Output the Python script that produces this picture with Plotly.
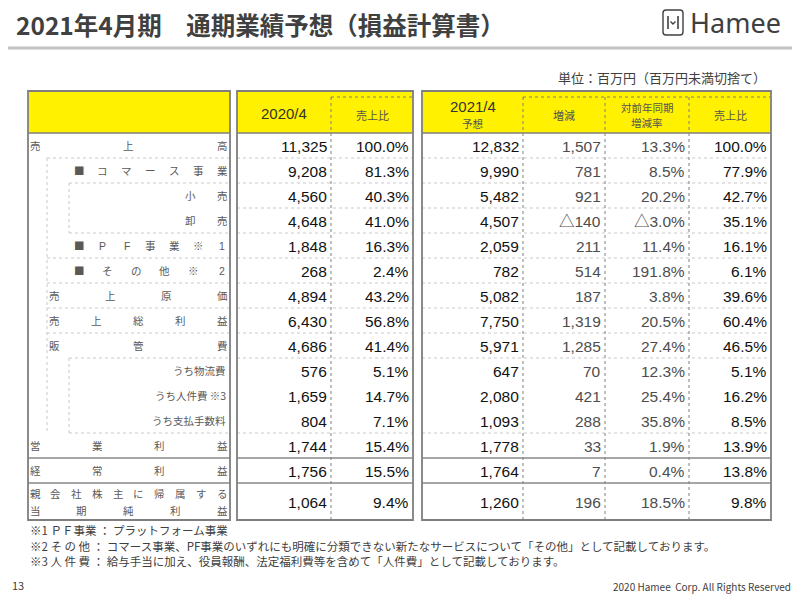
import plotly.graph_objects as go

# ---------------- data ----------------
row_labels = ["売上高", "■コマース事業", "小売", "卸売", "■PF事業※1", "■その他※2",
              "売上原価", "売上総利益", "販管費", "うち物流費", "うち人件費 ※3",
              "うち支払手数料", "営業利益", "経常利益", "親会社株主に帰属する|当期純利益"]
fy2020 = [11325, 9208, 4560, 4648, 1848, 268, 4894, 6430, 4686, 576, 1659, 804, 1744, 1756, 1064]
ratio2020 = [100.0, 81.3, 40.3, 41.0, 16.3, 2.4, 43.2, 56.8, 41.4, 5.1, 14.7, 7.1, 15.4, 15.5, 9.4]
fy2021 = [12832, 9990, 5482, 4507, 2059, 782, 5082, 7750, 5971, 647, 2080, 1093, 1778, 1764, 1260]
change = [1507, 781, 921, -140, 211, 514, 187, 1319, 1285, 70, 421, 288, 33, 7, 196]
change_rate = [13.3, 8.5, 20.2, -3.0, 11.4, 191.8, 3.8, 20.5, 27.4, 12.3, 25.4, 35.8, 1.9, 0.4, 18.5]
ratio2021 = [100.0, 77.9, 42.7, 35.1, 16.1, 6.1, 39.6, 60.4, 46.5, 5.1, 16.2, 8.5, 13.9, 13.8, 9.8]
headers = ["2020/4", "売上比", "2021/4|予想", "増減", "対前年同期|増減率", "売上比"]

title = "2021年4月期　通期業績予想（損益計算書）"
unit_note = "単位：百万円（百万円未満切捨て）"
footnotes = ["※1 ＰＦ事業 ： プラットフォーム事業",
             "※2 そ の 他 ： コマース事業、PF事業のいずれにも明確に分類できない新たなサービスについて「その他」として記載しております。",
             "※3 人 件 費 ： 給与手当に加え、役員報酬、法定福利費等を含めて「人件費」として記載しております。"]
page_no = "13"
copyright_text = "2020 Hamee  Corp. All Rights Reserved"

# ---------------- layout constants ----------------
JP = "Noto Sans CJK JP"
NUM = "Liberation Sans, Arial, Noto Sans CJK JP"
YELLOW = "#FFF100"
BORDER = "#7f7f7f"
LIGHT = "#c9c9c9"
PAGE_OFF = 8  # default page body margin, compensated via axis ranges
TOP, HEAD_B, ROW_H, LAST_H = 91, 133, 25, 37
blocks = [(28, 230), (237, 413), (422, 771)]
cols = [(237, 331), (331, 413), (422, 523), (523, 605), (605, 689), (689, 771)]
indent = [28, 47, 69, 69, 47, 47, 47, 47, 47, 69, 69, 69, 28, 28, 28]
label_mode = ["d"] * 9 + ["r"] * 3 + ["d"] * 3
first_x = {0: 35, 1: 79, 2: 190, 3: 190, 4: 79, 5: 79, 6: 54, 7: 54, 8: 54, 12: 35, 13: 35, 14: 35}
LAST_X = 222

n = len(row_labels)
tops = [HEAD_B + i * ROW_H for i in range(n)]
bottoms = [t + ROW_H for t in tops]
bottoms[-1] = tops[-1] + LAST_H
BOTTOM = bottoms[-1]
centers = [(t + b) / 2 for t, b in zip(tops, bottoms)]

fig = go.Figure()
fig.add_trace(go.Scatter(x=[400], y=[300], mode="markers",
                         marker=dict(size=1, opacity=0), hoverinfo="skip", showlegend=False))

shapes = []
ann = []


def line(x0, y0, x1, y1, color, width=1, dash="solid"):
    shapes.append(dict(type="line", xref="x", yref="y", x0=x0, y0=y0, x1=x1, y1=y1,
                       line=dict(color=color, width=width, dash=dash)))


def text(x, y, s, size, color, font=JP, xanchor="center", bold=False):
    if bold:
        s = "<b>" + s + "</b>"
    ann.append(dict(x=x, y=y, xref="x", yref="y", text=s, showarrow=False, xanchor=xanchor,
                    yanchor="middle", font=dict(family=font, size=size, color=color)))


# header yellow
for x0, x1 in blocks:
    shapes.append(dict(type="rect", xref="x", yref="y", x0=x0, x1=x1, y0=TOP, y1=HEAD_B,
                       fillcolor=YELLOW, line=dict(width=0)))

# data row separators
skip = {10, 11}
for i in range(1, n):
    if i in skip:
        continue
    y = tops[i]
    thick = i in (13, 14)
    for x0, x1 in blocks[1:]:
        if thick:
            line(x0, y, x1, y, "#a6a6a6", 2)
        else:
            line(x0, y, x1, y, LIGHT, 1, "dot")
    if i == 3:
        continue
    xs = max(indent[i - 1], indent[i])
    if thick:
        line(28, y, 230, y, "#a6a6a6", 2)
    else:
        line(xs, y, 230, y, LIGHT, 1, "dot" if xs > 28 else "solid")

# label indent verticals
line(47, tops[1], 47, tops[12], LIGHT, 1, "dot")
line(69, tops[2], 69, bottoms[3], LIGHT, 1, "dot")
line(69, tops[9], 69, tops[12], LIGHT, 1, "dot")

# dotted column dividers
for xv in (331, 523, 605, 689):
    line(xv, 97, xv, BOTTOM, "#808080", 1, "dot")
line(331, 97, 413, 97, "#808080", 1, "dot")
line(523, 97, 771, 97, "#808080", 1, "dot")

# header bottom and block outlines
for x0, x1 in blocks:
    line(x0, HEAD_B, x1, HEAD_B, BORDER, 1.5)
    shapes.append(dict(type="rect", xref="x", yref="y", x0=x0, x1=x1, y0=TOP, y1=BOTTOM,
                       line=dict(color=BORDER, width=1.8)))

# header texts
for (x0, x1), h in zip(cols, headers):
    cx = (x0 + x1) / 2
    parts = h.split("|")
    if h.startswith("20"):
        if len(parts) == 1:
            text(cx, (TOP + HEAD_B) / 2 + 1, parts[0], 15, "#333333", NUM)
        else:
            text(cx, 106, parts[0], 15, "#333333", NUM)
            text(cx, 123, parts[1], 10.5, "#555555")
    else:
        if len(parts) == 1:
            text(cx, 115, parts[0], 11, "#555555")
        else:
            text(cx, 107, parts[0], 10.5, "#555555")
            text(cx, 122, parts[1], 10.5, "#555555")

# row labels
LBL = "#595959"
for i, lab in enumerate(row_labels):
    if label_mode[i] == "r":
        text(228, centers[i], lab, 10.5, LBL, JP, "right")
        continue
    lines_ = lab.split("|")
    if len(lines_) == 1:
        ys = [centers[i]]
    else:
        ys = [centers[i] - 8.5, centers[i] + 8.5]
    for yy, ln in zip(ys, lines_):
        chars = list(ln)
        k = len(chars)
        x0 = first_x[i]
        step = (LAST_X - x0) / (k - 1)
        for j, ch in enumerate(chars):
            text(x0 + j * step, yy, ch, 10.5, LBL, NUM if ch.isascii() else JP)


def fmt_int(v):
    return ("△" if v < 0 else "") + f"{abs(v):,}"


def fmt_pct(v):
    return ("△" if v < 0 else "") + f"{abs(v):.1f}%"


columns = [(fy2020, fmt_int, "#111111"), (ratio2020, fmt_pct, "#111111"),
           (fy2021, fmt_int, "#111111"), (change, fmt_int, "#4d4d4d"),
           (change_rate, fmt_pct, "#4d4d4d"), (ratio2021, fmt_pct, "#111111")]
for (x0, x1), (vals, f, c) in zip(cols, columns):
    for i, v in enumerate(vals):
        text(x1 - 2, centers[i] + 0.5, f(v), 15.5, c, NUM, "right")

# title area
text(14, 24, title, 24.5, "#404040", JP, "left", bold=True)
line(PAGE_OFF, 48, 795, 48, "#c3c3c3", 3)
text(768, 77, unit_note, 13, "#404040", JP, "right")

# logo
shapes.append(dict(type="path", xref="x", yref="y",
                   path="M 666,10 L 680,10 Q 683,10 683,13 L 683,32 Q 683,35 680,35 L 666,35 Q 663,35 663,32 L 663,13 Q 663,10 666,10 Z",
                   line=dict(color="#404040", width=1.4)))
line(668, 16, 668, 29, "#404040", 1.6)
line(678, 16, 678, 29, "#404040", 1.6)
shapes.append(dict(type="path", xref="x", yref="y", path="M 670.5,21.5 L 673,24 L 675.5,21.5",
                   line=dict(color="#404040", width=1.4)))
text(688, 22, "Hamee", 27, "#404040", "Noto Sans", "left")

# footnotes
for k, fn in enumerate(footnotes):
    text(28, 530 + k * 15.5, fn, 11.5, "#404040", JP, "left")
text(10, 585, page_no, 11, "#404040", JP, "left")
text(793, 586, copyright_text, 10, "#404040", JP, "right")

fig.update_layout(width=800 - PAGE_OFF, height=600 - PAGE_OFF, autosize=False,
                  margin=dict(l=0, r=0, t=0, b=0),
                  paper_bgcolor="white", plot_bgcolor="white",
                  xaxis=dict(range=[PAGE_OFF, 800], visible=False, fixedrange=True),
                  yaxis=dict(range=[600, PAGE_OFF], visible=False, fixedrange=True),
                  shapes=shapes, annotations=ann, showlegend=False)
fig.write_html("out.html", config={"displayModeBar": False})
